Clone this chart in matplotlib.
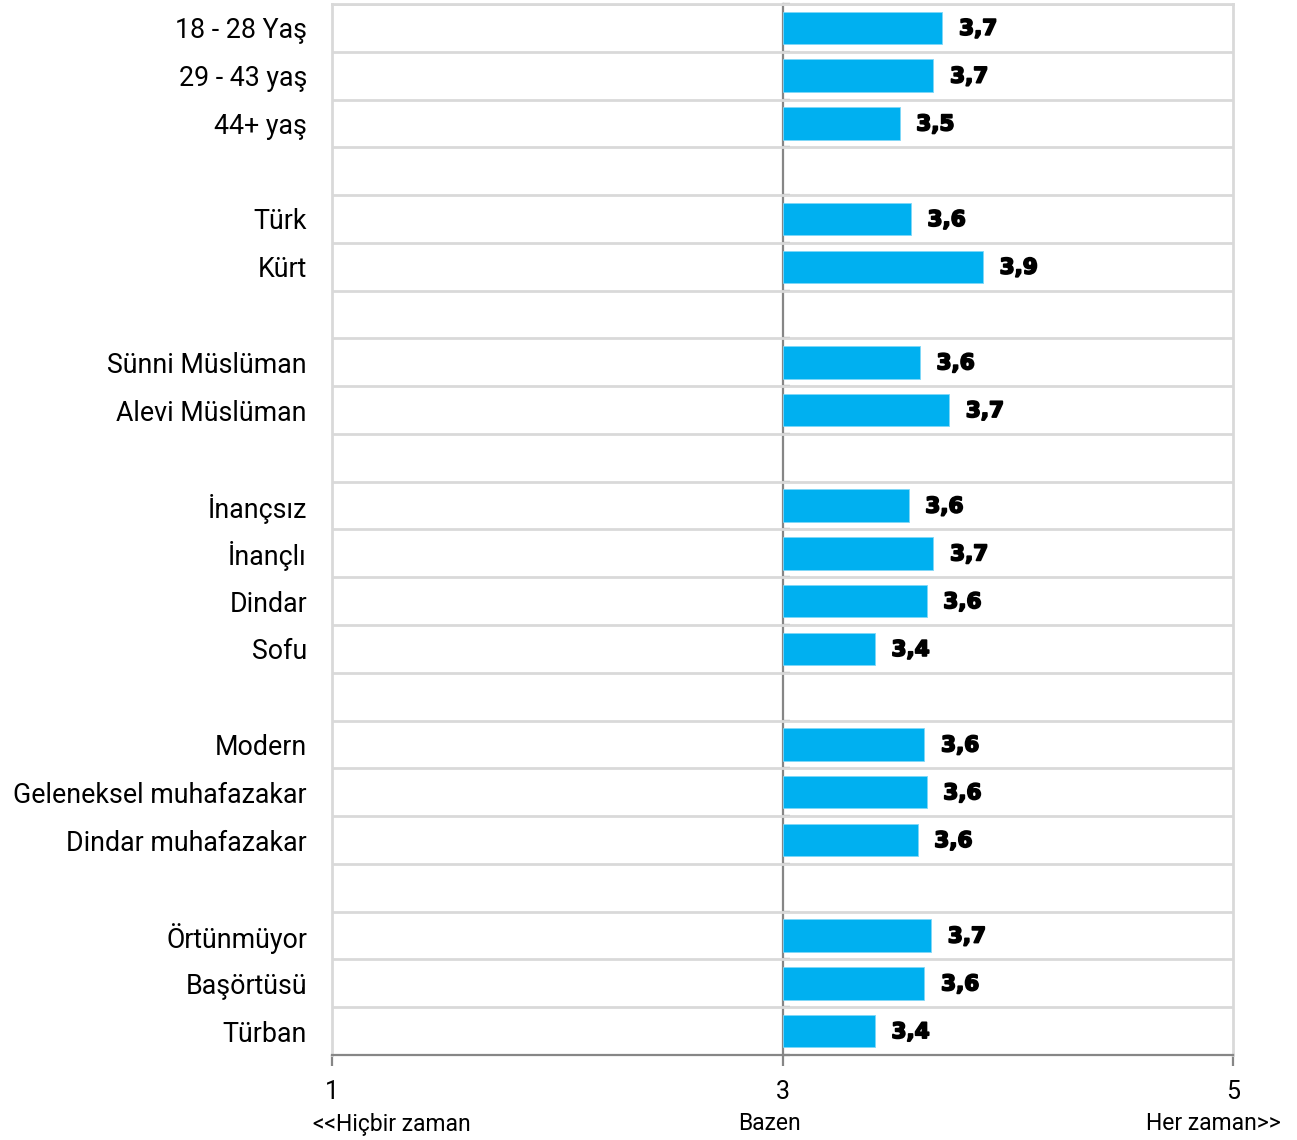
import matplotlib
matplotlib.use("Agg")
import matplotlib.pyplot as plt
import matplotlib.patheffects as pe
import numpy as np

# ---- data (None = empty separator row) ----
categories = ["18 - 28 Yaş", "29 - 43 yaş", "44+ yaş", None,
              "Türk", "Kürt", None,
              "Sünni Müslüman", "Alevi Müslüman", None,
              "İnançsız", "İnançlı", "Dindar", "Sofu", None,
              "Modern", "Geleneksel muhafazakar", "Dindar muhafazakar", None,
              "Örtünmüyor", "Başörtüsü", "Türban"]
values = [3.71, 3.67, 3.52, None,
          3.57, 3.89, None,
          3.61, 3.74, None,
          3.56, 3.67, 3.64, 3.41, None,
          3.63, 3.64, 3.60, None,
          3.66, 3.63, 3.41]
base = 3
x_ticks = [1, 3, 5]
x_sublabels = ["<<Hiçbir zaman", "Bazen", "Her zaman>>"]

BAR = "#00B0F0"
GRID = "#D9D9D9"
AXC = "#868686"
FONT = "Roboto"

W, H = 1297, 1140
fig = plt.figure(figsize=(W / 100, H / 100), dpi=100)
ax = fig.add_axes([332 / W, 1 - 1055 / H, (1233 - 332) / W, (1055 - 4) / H])

n = len(categories)
ypos = np.arange(n)
heavy = [pe.withStroke(linewidth=1.3, foreground="black")]
for y, v in zip(ypos, values):
    if v is None:
        continue
    ax.barh(y, v - base, left=base, height=0.68, color=BAR, edgecolor="#7FD7F7", linewidth=0.6, zorder=3)
    ax.text(v + 0.074, y + 0.02, f"{v:.1f}".replace(".", ","), va="center", ha="left",
            fontsize=15.5, fontweight="bold", family="DejaVu Sans", color="black", zorder=4,
            path_effects=heavy)

ax.set_xlim(1, 5)
ax.set_ylim(n - 0.5, -0.5)

# category labels
ax.set_yticks(ypos)
ax.set_yticklabels([c if c else "" for c in categories], family=FONT, fontsize=19.3)
ax.tick_params(axis="y", length=0, pad=18)

# horizontal grid at row boundaries
bounds = np.arange(n + 1) - 0.5
ax.set_yticks(bounds, minor=True)
ax.tick_params(axis="y", which="minor", length=0)
ax.grid(axis="y", which="minor", color=GRID, linewidth=2, zorder=0)
ax.grid(axis="y", which="major", visible=False)

# spines
for s in ["left", "right", "top"]:
    ax.spines[s].set_color(GRID)
    ax.spines[s].set_linewidth(2)
ax.spines["bottom"].set_color(AXC)
ax.spines["bottom"].set_linewidth(1.6)

# x axis
ax.set_xticks(x_ticks)
ax.set_xticklabels([str(t) for t in x_ticks], family=FONT, fontsize=18)
ax.tick_params(axis="x", direction="out", length=8, width=1.6, color=AXC, pad=10)

# central axis at x = base
sec = ax.secondary_yaxis((base - 1) / (5 - 1))
sec.set_yticks(bounds)
sec.set_yticklabels([])
for s in sec.spines.values():
    s.set_color(AXC)
    s.set_linewidth(1.6)
sec.tick_params(axis="y", which="both", direction="in", length=5, width=1.6, color=AXC,
                left=True, right=False)

# sub labels below the x ticks
fig.text(313 / W, 1 - 1124 / H, x_sublabels[0], ha="left", va="center", family=FONT, fontsize=16.5)
fig.text(769 / W, 1 - 1124 / H, x_sublabels[1], ha="center", va="center", family=FONT, fontsize=16.5)
fig.text(1281 / W, 1 - 1124 / H, x_sublabels[2], ha="right", va="center", family=FONT, fontsize=16.5)

fig.savefig("out.png", dpi=100)
